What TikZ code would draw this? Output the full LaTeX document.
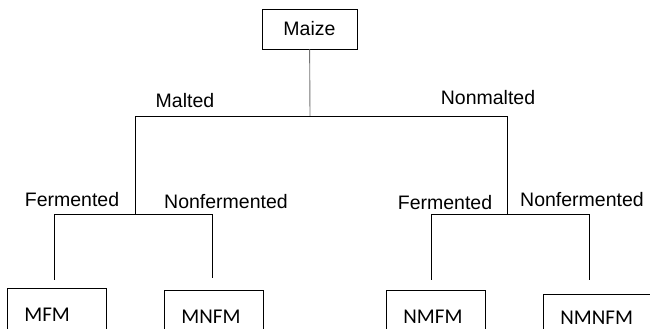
\documentclass[tikz,border=0pt]{standalone}
\usepackage{fontspec}
\setmainfont{Liberation Sans}
\newfontfamily\boxfont{Carlito}
\usetikzlibrary{positioning}

\begin{document}
\begin{tikzpicture}[x=1pt, y=-1pt,
  lbl/.style={font=\fontsize{19.5}{23}\selectfont, inner sep=0pt},
  branch/.style={line width=0.8pt, black},
  trunk/.style={line width=0.9pt, black!55},
  leafbox/.style={draw, line width=0.8pt, anchor=north west, align=left,
    text width=#1, inner xsep=17pt, inner ysep=0pt, minimum height=52pt,
    font=\boxfont\fontsize{21}{25}\selectfont}]
  \useasboundingbox (0,0) rectangle (650,329);
  % root
  \node[draw, line width=0.8pt, lbl, minimum width=95pt, minimum height=40pt] (maize) at (309.5,29) {Maize};
  % first split
  \coordinate (tj) at (310,116);
  \coordinate (bl) at (135,116);
  \coordinate (br) at (507,116);
  \coordinate (ml) at (135,214);
  \coordinate (nl) at (507,214);
  \node[lbl] (malted) at (185,101) {Malted};
  \node[lbl] (nonmalted) at (488,98) {Nonmalted};
  % second split
  \coordinate (mfj) at (54,214);
  \coordinate (mnj) at (212,214);
  \coordinate (nfj) at (431,214);
  \coordinate (nnj) at (589,214);
  \node[lbl] (mferm) at (72,200) {Fermented};
  \node[lbl] (mnferm) at (226,202) {Nonfermented};
  \node[lbl] (nferm) at (445,203) {Fermented};
  \node[lbl] (nnferm) at (582,200) {Nonfermented};
  % leaves
  \node[leafbox=65pt] (mfm) at (7,288) {MFM};
  \node[leafbox=65pt] (mnfm) at (164,290) {MNFM};
  \node[leafbox=65pt] (nmfm) at (386,290) {NMFM};
  \node[leafbox=100pt, minimum height=46pt] (nmnfm) at (543,294) {NMNFM};
  % connectors
  \draw[trunk] (maize) -- (tj);
  \draw[branch] (bl) -- (br);
  \draw[branch] (bl) -- (ml);
  \draw[branch] (br) -- (nl);
  \draw[branch] (mfj) -- (mnj);
  \draw[branch] (nfj) -- (nnj);
  \draw[branch, shorten >=8pt] (mfj) -- (mfj |- mfm.north);
  \draw[branch, shorten >=12pt] (mnj) -- (mnj |- mnfm.north);
  \draw[branch, shorten >=10pt] (nfj) -- (nfj |- nmfm.north);
  \draw[branch, shorten >=14pt] (nnj) -- (nnj |- nmnfm.north);
\end{tikzpicture}
\end{document}
